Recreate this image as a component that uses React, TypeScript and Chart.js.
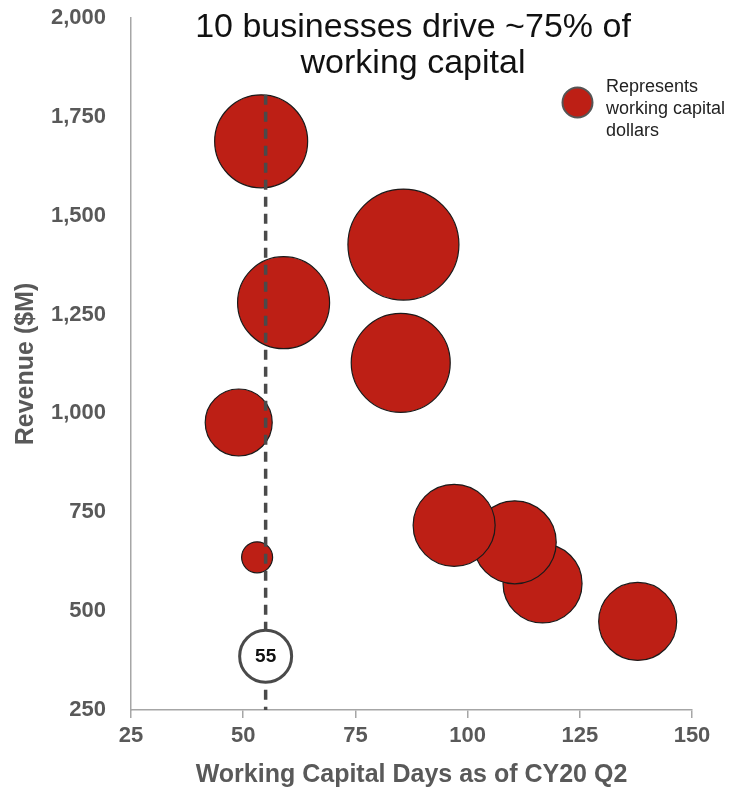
import { useEffect, useRef } from 'react';
import { Chart, registerables } from 'chart.js';

Chart.register(...registerables);

// Working capital days (x), revenue $M (y), bubble size (working capital dollars, px radius)
// ordered so that overlapping bubbles stack as in the source
const wcDays = [54, 85.7, 59, 85.1, 49, 53.1, 116.7, 110.5, 97, 137.9];
const revenue = [1688, 1427, 1280, 1128, 977, 636, 570, 674, 717, 474];
const bubbleSize = [46.5, 55.5, 46, 49.5, 33.5, 15.5, 39.5, 41.5, 41, 39];

const averageDays = 55;
const averageLineRevenue = [1806, 250];
const averageMarkerRevenue = 386;
const averageLabel = '55';

const xMin = 25;
const xMax = 150;
const xStep = 25;
const yMin = 250;
const yMax = 2000;
const yStep = 250;

const titleLines = ['10 businesses drive ~75% of', 'working capital'];
const legendLines = ['Represents', 'working capital', 'dollars'];
const xTitle = 'Working Capital Days as of CY20 Q2';
const yTitle = 'Revenue ($M)';

const RED = '#BD1F15';
const FONT = "'Liberation Sans', Arial, sans-serif";

export default function App() {
  const ref = useRef<HTMLCanvasElement | null>(null);

  useEffect(() => {
    document.body.style.margin = '0';
    const canvas = ref.current;
    if (!canvas) return;

    const overlay = {
      id: 'overlay',
      afterDatasetsDraw(chart: any) {
        const ctx = chart.ctx;
        const meta = chart.getDatasetMeta(0);
        const el = meta.data[0];
        if (el) {
          ctx.save();
          ctx.font = `bold 19px ${FONT}`;
          ctx.fillStyle = '#111';
          ctx.textAlign = 'center';
          ctx.textBaseline = 'middle';
          ctx.fillText(averageLabel, el.x, el.y + 1);
          ctx.restore();
        }
      },
      afterDraw(chart: any) {
        const ctx = chart.ctx;
        ctx.save();
        ctx.font = `34px ${FONT}`;
        ctx.fillStyle = '#111';
        ctx.textAlign = 'center';
        ctx.textBaseline = 'alphabetic';
        ctx.fillText(titleLines[0], 413, 37);
        ctx.fillText(titleLines[1], 413, 73);
        ctx.beginPath();
        ctx.arc(577.5, 102.5, 15, 0, Math.PI * 2);
        ctx.fillStyle = RED;
        ctx.fill();
        ctx.lineWidth = 2;
        ctx.strokeStyle = '#555';
        ctx.stroke();
        ctx.font = `18px ${FONT}`;
        ctx.fillStyle = '#222';
        ctx.textAlign = 'left';
        legendLines.forEach((t, i) => ctx.fillText(t, 606, 92 + i * 22));
        ctx.restore();
      },
    };

    const chart = new Chart(canvas, {
      type: 'bubble',
      data: {
        datasets: [
          {
            type: 'bubble',
            order: 0,
            data: [{ x: averageDays, y: averageMarkerRevenue, r: 26 }],
            backgroundColor: '#ffffff',
            borderColor: '#4a4a4a',
            borderWidth: 3,
          } as any,
          {
            type: 'line',
            order: 1,
            data: averageLineRevenue.map((y) => ({ x: averageDays, y })),
            borderColor: '#4a4a4a',
            borderWidth: 3.5,
            borderDash: [10, 7],
            pointRadius: 0,
            fill: false,
          } as any,
          {
            type: 'bubble',
            order: 2,
            data: wcDays.map((x, i) => ({ x, y: revenue[i], r: bubbleSize[i] })),
            backgroundColor: RED,
            borderColor: '#1a1a1a',
            borderWidth: 1.2,
          } as any,
        ],
      },
      options: {
        responsive: false,
        animation: false,
        events: [],
        layout: { autoPadding: false, padding: { top: 18, right: 43, left: 0, bottom: 0 } },
        plugins: { legend: { display: false }, tooltip: { enabled: false } },
        scales: {
          x: {
            type: 'linear',
            min: xMin,
            max: xMax,
            ticks: {
              stepSize: xStep,
              padding: 7,
              color: '#595959',
              font: { family: FONT, size: 22, weight: 'bold', lineHeight: 1 },
            },
            grid: { display: true, drawOnChartArea: false, drawTicks: true, tickLength: 8, color: '#a6a6a6', lineWidth: 1.5 },
            border: { display: true, color: '#a6a6a6', width: 1.5 },
            title: {
              display: true,
              text: xTitle,
              color: '#595959',
              padding: 0,
              font: { family: FONT, size: 25, weight: 'bold', lineHeight: 1 },
            },
            afterFit: (s: any) => {
              s.height = 78;
              s.paddingLeft = 0;
              s.paddingRight = 0;
            },
          },
          y: {
            type: 'linear',
            min: yMin,
            max: yMax,
            ticks: {
              stepSize: yStep,
              padding: 25,
              color: '#595959',
              font: { family: FONT, size: 22, weight: 'bold', lineHeight: 1 },
            },
            grid: { display: false, drawTicks: false },
            border: { display: true, color: '#a6a6a6', width: 1.5 },
            title: {
              display: true,
              text: yTitle,
              color: '#595959',
              padding: { top: 14, bottom: 0 },
              font: { family: FONT, size: 25, weight: 'bold', lineHeight: 1 },
            },
            afterFit: (s: any) => {
              s.width = 131;
              s.paddingTop = 0;
              s.paddingBottom = 0;
            },
          },
        },
      } as any,
      plugins: [overlay],
    });

    return () => chart.destroy();
  }, []);

  return (
    <div style={{ width: 735, height: 788 }}>
      <canvas ref={ref} width={735} height={788} style={{ display: 'block' }} />
    </div>
  );
}
